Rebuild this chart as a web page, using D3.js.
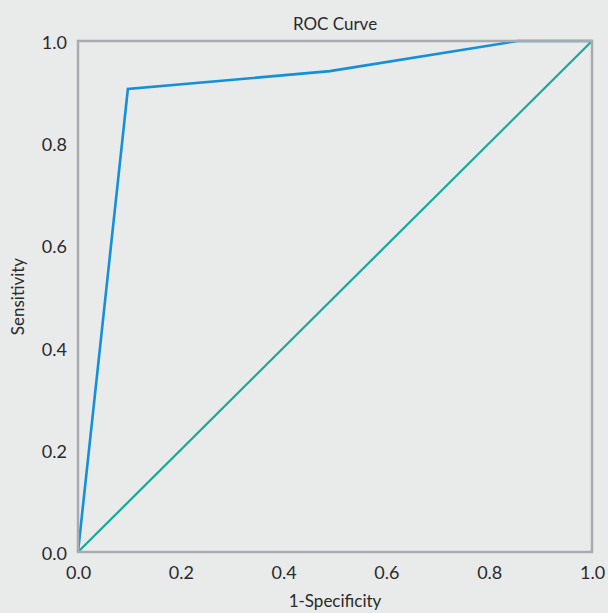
<!DOCTYPE html>
<html><head><meta charset="utf-8">
<script src="https://cdn.jsdelivr.net/npm/d3@7"></script>
<style>html,body{margin:0;padding:0;background:#e9ebeb;}svg{display:block;}</style>
</head><body>
<script>
const rocFpr = [0, 0.097, 0.49, 0.855, 1.0];
const rocTpr = [0, 0.906, 0.941, 1.0, 1.0];
const refFpr = [0, 1];
const refTpr = [0, 1];
const tickValues = [0, 0.2, 0.4, 0.6, 0.8, 1.0];

const W = 608, H = 613;
const m = {left: 78, right: 16, top: 41, bottom: 61};
const FONT = "Lato, 'Open Sans', sans-serif";
const svg = d3.select("body").append("svg").attr("width", W).attr("height", H)
  .style("font-family", FONT);
svg.append("rect").attr("width", W).attr("height", H).attr("fill", "#e9ebeb");

const x = d3.scaleLinear().domain([0, 1]).range([m.left, W - m.right]);
const y = d3.scaleLinear().domain([0, 1]).range([H - m.bottom, m.top]);

const line = d3.line().x(d => x(d[0])).y(d => y(d[1]));

svg.append("path").datum(d3.zip(refFpr, refTpr)).attr("d", line)
  .attr("fill", "none").attr("stroke", "#17a899").attr("stroke-width", 2.2);
svg.append("path").datum(d3.zip(rocFpr, rocTpr)).attr("d", line)
  .attr("fill", "none").attr("stroke", "#148fdb").attr("stroke-width", 2.6)
  .attr("stroke-linejoin", "miter");

svg.append("rect").attr("x", x(0)).attr("y", y(1))
  .attr("width", x(1) - x(0)).attr("height", y(0) - y(1))
  .attr("fill", "none").attr("stroke", "#a9abae").attr("stroke-width", 2.5);

const xAxis = svg.append("g").attr("transform", `translate(0,${y(0)})`)
  .call(d3.axisBottom(x).tickValues(tickValues).tickFormat(d3.format(".1f")).tickSize(0).tickPadding(14));
const yAxis = svg.append("g").attr("transform", `translate(${x(0)},0)`)
  .call(d3.axisLeft(y).tickValues(tickValues).tickFormat(d3.format(".1f")).tickSize(0).tickPadding(11));
[xAxis, yAxis].forEach(a => {
  a.select(".domain").remove();
  a.selectAll("text").attr("fill", "#2a2a2a").style("font-size", "18px")
    .style("font-family", FONT);
});
yAxis.selectAll("text").attr("dy", "0.42em");

svg.append("text").attr("x", (x(0) + x(1)) / 2).attr("y", 30).attr("text-anchor", "middle")
  .attr("fill", "#2a2a2a").style("font-size", "17px").text("ROC Curve");
svg.append("text").attr("x", (x(0) + x(1)) / 2).attr("y", 607).attr("text-anchor", "middle")
  .attr("fill", "#2a2a2a").style("font-size", "17px").text("1-Specificity");
svg.append("text").attr("transform", `translate(24,${(y(0) + y(1)) / 2}) rotate(-90)`)
  .attr("text-anchor", "middle").attr("fill", "#2a2a2a").style("font-size", "17px").text("Sensitivity");
</script>
</body></html>
